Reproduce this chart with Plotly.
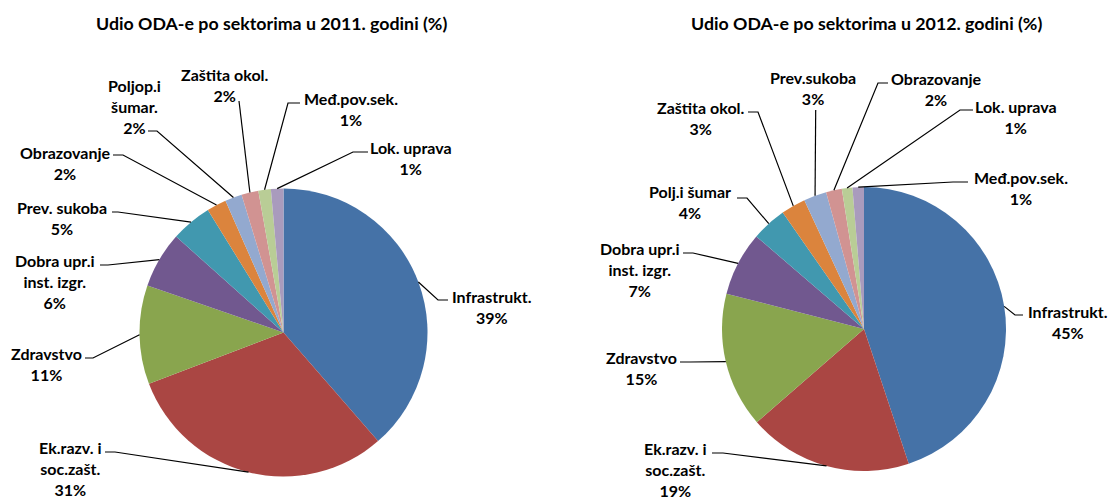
import math
import plotly.graph_objects as go

W, H = 1110, 501

# ---------------- data ----------------
titles = ["Udio ODA-e po sektorima u 2011. godini (%)",
          "Udio ODA-e po sektorima u 2012. godini (%)"]

sectors_2011 = ["Infrastrukt.", "Ek.razv. i<br>soc.zašt.", "Zdravstvo",
                "Dobra upr.i<br>inst. izgr.", "Prev. sukoba", "Obrazovanje",
                "Poljop.i<br>šumar.", "Zaštita okol.", "Međ.pov.sek.", "Lok. uprava"]
shares_2011 = [38.6, 30.6, 11.1, 6.3, 4.6, 2.2, 1.9, 1.9, 1.4, 1.4]

sectors_2012 = ["Infrastrukt.", "Ek.razv. i<br>soc.zašt.", "Zdravstvo",
                "Dobra upr.i<br>inst. izgr.", "Polj.i šumar", "Zaštita okol.",
                "Prev.sukoba", "Obrazovanje", "Lok. uprava", "Međ.pov.sek."]
shares_2012 = [44.9, 18.7, 15.4, 7.3, 4.0, 2.8, 2.6, 1.8, 1.2, 1.3]

colors = ["#4572A7", "#AA4643", "#89A54E", "#71588F", "#4198AF",
          "#DB843D", "#93A9CF", "#D19392", "#B9CD96", "#A99BBD"]

# ---------------- layout (pixels) ----------------
pie_geom = [dict(cx=283.5, cy=332.5, r=144), dict(cx=864, cy=329, r=142)]
title_pos = [(271, 23), (866, 23)]

# label centre (x, y) and leader-line points from the label side toward the pie
label_layout_2011 = [
    (492, 307, [(448, 300), (438, 300)]),
    (70, 468, [(105, 452), (115, 452)]),
    (46, 364, [(85, 358), (93, 358)]),
    (55, 281, [(100, 265), (108, 265)]),
    (62, 217.5, [(112, 212), (118, 212)]),
    (65, 163, [(113, 155), (123, 155)]),
    (134, 106, [(148, 131), (157, 131)]),
    (225, 85, [(239, 101)]),
    (351, 109, [(300, 103), (288, 103)]),
    (411, 158, [(368, 152), (353, 152)]),
]
label_layout_2012 = [
    (1068, 322, [(1023, 315), (1015, 315)]),
    (675, 469, [(712, 453), (723, 453)]),
    (641, 367.5, [(680, 362), (690, 362)]),
    (640, 269, [(683, 253), (693, 253)]),
    (690, 202, [(737, 198), (747, 198)]),
    (701, 118, [(748, 112), (758, 112)]),
    (813, 88, [(815.7, 110)]),
    (936, 89.5, [(888, 83), (878, 83)]),
    (1016, 117, [(973, 110), (960, 110)]),
    (1021, 188, [(968, 182), (953, 182)]),
]

FONT = "Lato, 'Open Sans', sans-serif"


def px(x, y):
    return x / W, 1 - y / H


fig = go.Figure()
annotations = []
shapes = []

datasets = [(sectors_2011, shares_2011, label_layout_2011),
            (sectors_2012, shares_2012, label_layout_2012)]

for i, (names, vals, lay) in enumerate(datasets):
    g = pie_geom[i]
    cx, cy, r = g["cx"], g["cy"], g["r"]
    fig.add_trace(go.Pie(
        labels=[n.replace("<br>", " ") for n in names],
        values=vals,
        sort=False,
        direction="clockwise",
        rotation=0,
        textinfo="none",
        hoverinfo="label+percent",
        marker=dict(colors=colors, line=dict(width=0)),
        showlegend=False,
        domain=dict(x=[(cx - r) / W, (cx + r) / W],
                    y=[1 - (cy + r) / H, 1 - (cy - r) / H]),
    ))
    total = sum(vals)
    cum = 0.0
    for name, v, (lx, ly, pts) in zip(names, vals, lay):
        mid = (cum + v / 2) / total
        cum += v
        th = 2 * math.pi * mid
        ax = cx + r * math.sin(th)
        ay = cy - r * math.cos(th)
        allpts = list(pts) + [(ax, ay)]
        path = ""
        for k, (x, y) in enumerate(allpts):
            X, Y = px(x, y)
            path += ("M" if k == 0 else " L") + f" {X:.5f} {Y:.5f}"
        shapes.append(dict(type="path", xref="paper", yref="paper", path=path,
                           line=dict(color="#000000", width=1.2), layer="above"))
        pct = round(v / total * 100)
        X, Y = px(lx, ly)
        annotations.append(dict(
            x=X, y=Y, xref="paper", yref="paper", xanchor="center", yanchor="middle",
            text=f"{name}<br>{pct}%", showarrow=False, align="center",
            font=dict(family=FONT, size=16, color="#000000", weight="bold")))
    tx, ty = title_pos[i]
    X, Y = px(tx, ty)
    annotations.append(dict(
        x=X, y=Y, xref="paper", yref="paper", xanchor="center", yanchor="middle",
        text=titles[i], showarrow=False,
        font=dict(family=FONT, size=17.8, color="#000000", weight="bold")))

fig.update_layout(
    width=W, height=H,
    margin=dict(l=0, r=0, t=0, b=0),
    paper_bgcolor="white", plot_bgcolor="white",
    annotations=annotations, shapes=shapes,
)

fig.write_html("out.html",
               config={"displayModeBar": False},
               post_script="document.body.style.margin='0';document.body.style.overflow='hidden';")
